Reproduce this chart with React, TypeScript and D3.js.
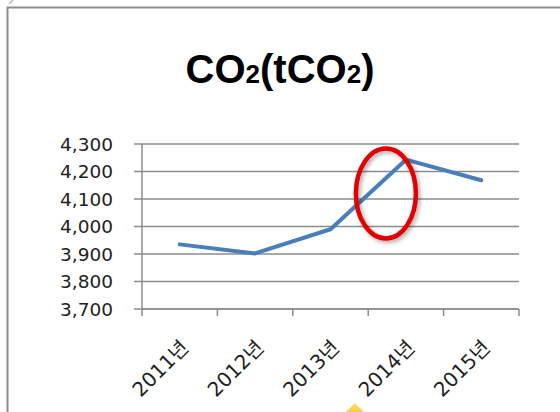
import { scaleBand, scaleLinear, line } from "d3"

const years = ["2011년", "2012년", "2013년", "2014년", "2015년"]
const co2 = [3935, 3902, 3990, 4243, 4168]
const yTicks = [3700, 3800, 3900, 4000, 4100, 4200, 4300]

const W = 560
const H = 412
const plot = { left: 142, right: 519, top: 144, bottom: 309 }

export default function App() {
  const x = scaleBand<string>().domain(years).range([plot.left, plot.right]).padding(0)
  const y = scaleLinear().domain([3700, 4300]).range([plot.bottom, plot.top])
  const cx = (d: string) => x(d)! + x.bandwidth() / 2

  const path = line<number>()
    .x((_, i) => cx(years[i]))
    .y((v) => y(v))(co2)

  const labelFont = "'DejaVu Sans', 'Noto Sans CJK KR', sans-serif"

  return (
    <svg
      width={W}
      height={H}
      viewBox={`0 0 ${W} ${H}`}
      style={{ position: "absolute", left: 0, top: 0, background: "#fff" }}
    >
      <defs>
        <filter id="shadow" x="-30%" y="-30%" width="160%" height="160%">
          <feDropShadow dx="2" dy="2" stdDeviation="2" floodColor="#000" floodOpacity="0.35" />
        </filter>
        <linearGradient id="gold" x1="0" y1="0" x2="0" y2="1">
          <stop offset="0" stopColor="#ffe066" />
          <stop offset="1" stopColor="#f0b400" />
        </linearGradient>
      </defs>

      {/* frame */}
      <path d={`M7.5,${H} V7.5 H${W}`} fill="none" stroke="#8c8c8c" strokeWidth={2} />
      <path d="M9,4 L13,0" stroke="#b8b0e0" strokeWidth={1.5} />

      {/* title */}
      <text
        x={280}
        y={83}
        textAnchor="middle"
        fontFamily="'Liberation Sans', Arial, sans-serif"
        fontWeight="bold"
        fontSize={40}
        fill="#000"
      >
        CO<tspan fontSize={26}>2</tspan>(tCO<tspan fontSize={26}>2</tspan>)
      </text>

      {/* gridlines + y ticks */}
      {yTicks.map((t) => (
        <g key={t} transform={`translate(0,${y(t)})`}>
          <line x1={134} x2={plot.right} stroke="#8c8c8c" strokeWidth={1.5} />
          <text
            x={113}
            dy="0.36em"
            textAnchor="end"
            fontFamily={labelFont}
            fontSize={18.5}
            fill="#222"
          >
            {t.toLocaleString("en-US")}
          </text>
        </g>
      ))}

      {/* axes */}
      <line x1={plot.left} x2={plot.left} y1={plot.top} y2={plot.bottom + 7} stroke="#8c8c8c" strokeWidth={1.5} />
      <line x1={plot.left} x2={plot.right} y1={plot.bottom} y2={plot.bottom} stroke="#8c8c8c" strokeWidth={1.5} />
      {years.map((d) => (
        <line key={d} x1={x(d)! + x.bandwidth()} x2={x(d)! + x.bandwidth()} y1={plot.bottom} y2={plot.bottom + 7} stroke="#8c8c8c" strokeWidth={1.5} />
      ))}

      {/* x labels */}
      {years.map((d) => (
        <text
          key={d}
          transform={`translate(${cx(d) + 10},${plot.bottom + 40}) rotate(-45)`}
          textAnchor="end"
          fontFamily={labelFont}
          fontSize={20}
          fill="#222"
        >
          {d}
        </text>
      ))}

      {/* series */}
      <path d={path!} fill="none" stroke="#4a7ebb" strokeWidth={4} strokeLinejoin="round" strokeLinecap="round" />

      {/* annotation ellipse */}
      <ellipse
        cx={cx("2014년") - 20}
        cy={y(4120)}
        rx={30}
        ry={45}
        fill="none"
        stroke="#e00000"
        strokeWidth={4.5}
        filter="url(#shadow)"
      />

      {/* cursor diamond */}
      <polygon
        points={`${cx("2014년") - 51},403 ${cx("2014년") - 41},413 ${cx("2014년") - 51},423 ${cx("2014년") - 61},413`}
        fill="url(#gold)"
      />
    </svg>
  )
}
